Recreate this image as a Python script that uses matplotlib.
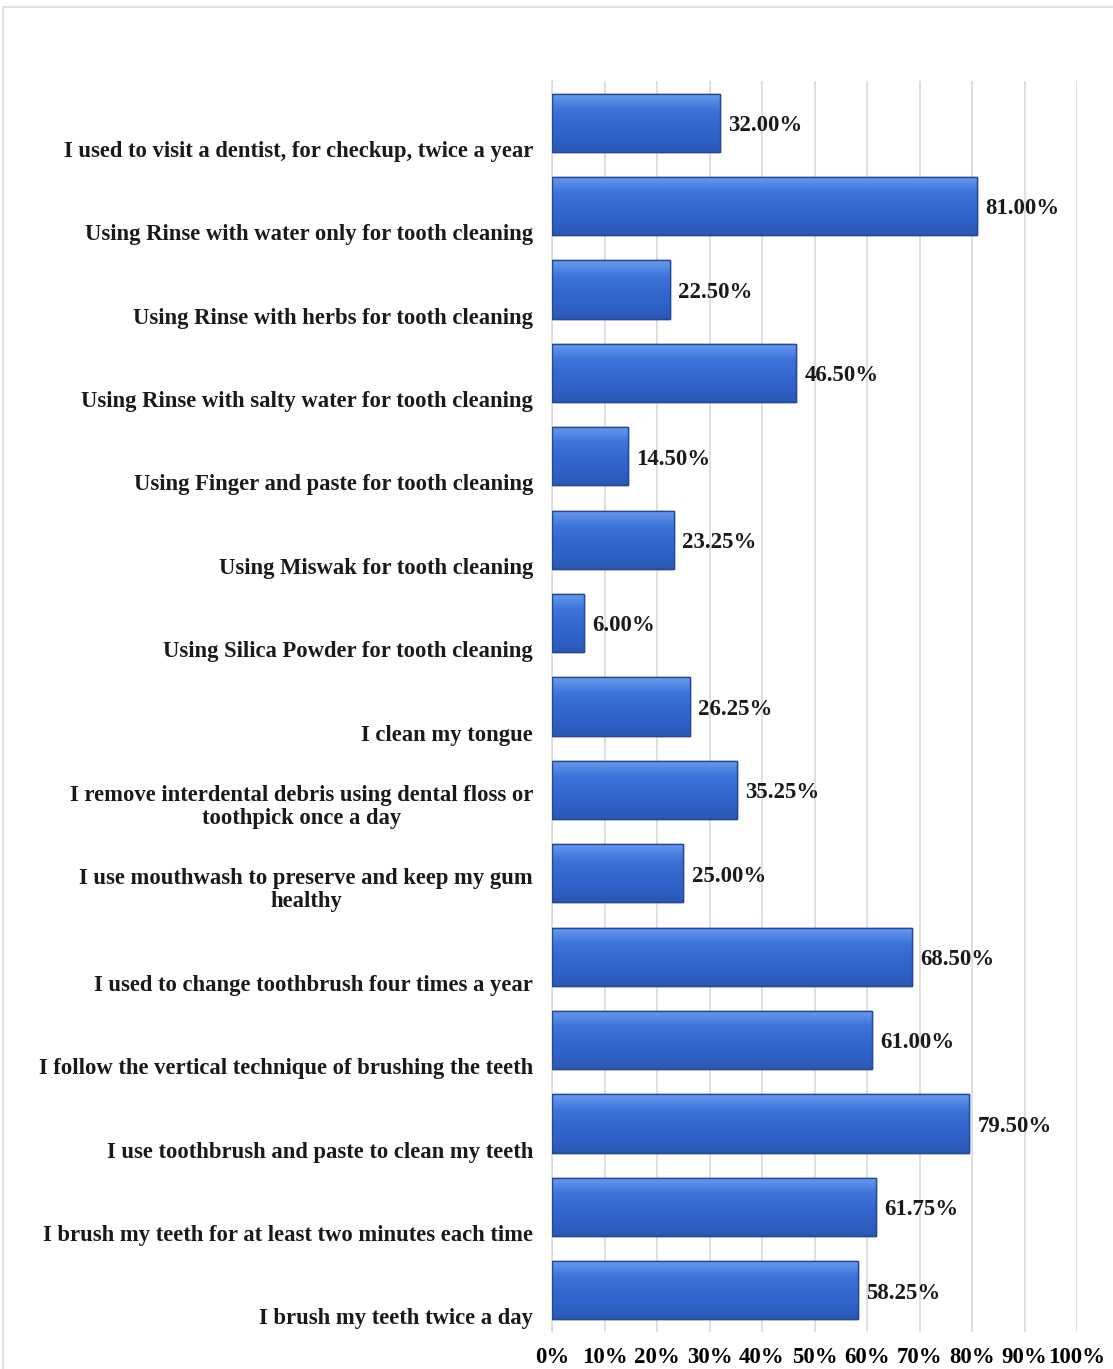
import numpy as np
import matplotlib
matplotlib.use('Agg')
import matplotlib.pyplot as plt
from matplotlib.patches import Rectangle
from matplotlib.colors import LinearSegmentedColormap
import matplotlib.transforms as mtransforms

plt.rcParams['font.family'] = ['Liberation Serif', 'DejaVu Serif']
plt.rcParams['font.weight'] = 'bold'

categories = [
    "I used to visit a dentist, for checkup, twice a year",
    "Using Rinse with water only for tooth cleaning",
    "Using Rinse with herbs for tooth cleaning",
    "Using Rinse with salty water for tooth cleaning",
    "Using Finger and paste for tooth cleaning",
    "Using Miswak for tooth cleaning",
    "Using Silica Powder for tooth cleaning",
    "I clean my tongue",
    "I remove interdental debris using dental floss or\ntoothpick once a day",
    "I use mouthwash to preserve and keep my gum\nhealthy",
    "I used to change toothbrush four times a year",
    "I follow the vertical technique of brushing the teeth",
    "I use toothbrush and paste to clean my teeth",
    "I brush my teeth for at least two minutes each time",
    "I brush my teeth twice a day",
]
values = [32.00, 81.00, 22.50, 46.50, 14.50, 23.25, 6.00, 26.25,
          35.25, 25.00, 68.50, 61.00, 79.50, 61.75, 58.25]
xticks = [0, 10, 20, 30, 40, 50, 60, 70, 80, 90, 100]

W, H = 1113, 1369
fig = plt.figure(figsize=(W / 100, H / 100), dpi=100)

# outer chart frame (Excel style)
fig.patches.append(Rectangle((3 / W, -0.1), 1.2, 1 - 7 / H + 0.1,
                             transform=fig.transFigure, fill=False,
                             edgecolor='#d9d9d9', linewidth=1.2))

ax = fig.add_axes([552 / W, 1 - 1332 / H, 525 / W, 1251 / H])

y = np.arange(len(categories))
bar_h = 0.70
bars = ax.barh(y, values, height=bar_h, color='#3366cc',
               edgecolor='#24479a', linewidth=1.0, zorder=3)

# bevel-like vertical gradient inside each bar
cmap = LinearSegmentedColormap.from_list(
    'bev', ['#6a9cee', '#3f76da', '#3569d0', '#3062c8', '#2b58b4'])
grad = np.linspace(0, 1, 64).reshape(-1, 1)
for b in bars:
    x0, y0 = b.get_x(), b.get_y()
    w, h = b.get_width(), b.get_height()
    im = ax.imshow(grad, cmap=cmap, aspect='auto',
                   extent=[x0, x0 + w, y0 + h, y0], zorder=3.5,
                   interpolation='bicubic')
    im.set_clip_path(b)
    ax.add_patch(Rectangle((x0, y0), w, h, fill=False,
                           edgecolor='#24479a', linewidth=1.0, zorder=4))

ax.set_xlim(0, 100)
ax.set_ylim(len(categories) - 0.5, -0.5)

ax.set_xticks(xticks)
ax.set_xticklabels([f"{t}%" for t in xticks], fontsize=16.5, fontweight='bold')
ax.tick_params(axis='x', length=0, pad=11)
ax.set_yticks([])
ax.grid(axis='x', color='#d9d9d9', linewidth=1.2, zorder=0)
for s in ['top', 'right', 'bottom']:
    ax.spines[s].set_visible(False)
ax.spines['left'].set_color('#d9d9d9')
ax.spines['left'].set_linewidth(1.2)

# category labels, sitting below the bar centre like the original
lab_tr = mtransforms.blended_transform_factory(ax.transAxes, ax.transData)
for i, c in enumerate(categories):
    ax.text(-19 / 525, i + 0.47, c, transform=lab_tr, ha='right', va='bottom',
            multialignment='center', fontsize=16.3, fontweight='bold',
            color='#1a1a1a', linespacing=1.15)

for i, v in enumerate(values):
    ax.annotate(f"{v:.2f}%", (v, i), xytext=(6, -2), textcoords='offset points',
                ha='left', va='center', fontsize=16.5, fontweight='bold',
                color='#1a1a1a', zorder=5)

fig.savefig('out.png', dpi=100)
